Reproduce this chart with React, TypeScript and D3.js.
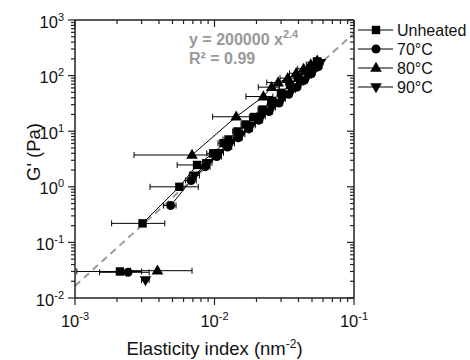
import React from "react";
import * as d3 from "d3";

// ---- data ----
const xTickValues = [1e-3, 1e-2, 1e-1];
const xTickExps = ["-3", "-2", "-1"];
const yTickValues = [1e-2, 1e-1, 1e0, 1e1, 1e2, 1e3];
const yTickExps = ["-2", "-1", "0", "1", "2", "3"];

const seriesNames = ["Unheated", "70°C", "80°C", "90°C"];
const seriesSymbols = ["square", "circle", "triangleUp", "triangleDown"];

const unheatedX = [0.0021, 0.00305, 0.0056, 0.0075, 0.0098, 0.0116, 0.0126, 0.0146, 0.0167, 0.0192, 0.0221, 0.0258, 0.0301, 0.0348, 0.0398, 0.0452, 0.0498, 0.0545];
const unheatedY = [0.030, 0.22, 1.0, 2.47, 4.0, 6.1, 7.1, 9.9, 13.2, 18.0, 24.5, 35.0, 49.0, 68.0, 92.0, 120.0, 150.0, 180.0];
const unheatedLo = [0.00103, 0.00183, 0.00345, 0.0054, 0.0088, 0.0106, 0.0115, 0.0135, 0.0155, 0.0178, 0.0205, 0.0240, 0.0282, 0.0328, 0.0375, 0.0428, 0.0472, 0.0518];
const unheatedHi = [0.0030, 0.0044, 0.00765, 0.0092, 0.0108, 0.0127, 0.0137, 0.0158, 0.0180, 0.0207, 0.0238, 0.0277, 0.0321, 0.0369, 0.0421, 0.0477, 0.0525, 0.0573];

const c70X = [0.0024, 0.00485, 0.0068, 0.0086, 0.0104, 0.0124, 0.0148, 0.0176, 0.0208, 0.0246, 0.029, 0.034, 0.039, 0.044, 0.0495, 0.0555];
const c70Y = [0.029, 0.46, 1.3, 2.3, 3.5, 5.2, 7.6, 11.0, 15.8, 22.5, 32.0, 46.0, 62.0, 82.0, 108.0, 145.0];
const c70Lo = [0.0015, 0.0043, 0.0062, 0.0079, 0.0096, 0.0115, 0.0138, 0.0165, 0.0195, 0.0232, 0.0274, 0.0322, 0.037, 0.0418, 0.047, 0.053];
const c70Hi = [0.0034, 0.0053, 0.0074, 0.0093, 0.0112, 0.0133, 0.0158, 0.0187, 0.0221, 0.026, 0.0306, 0.0358, 0.041, 0.0462, 0.052, 0.058];

const c80X = [0.0039, 0.0069, 0.0143, 0.0224, 0.0257, 0.0286, 0.0335, 0.0385, 0.0435, 0.049, 0.0545];
const c80Y = [0.031, 3.73, 18.2, 42.0, 62.0, 75.0, 90.0, 110.0, 132.0, 158.0, 185.0];
const c80Lo = [0.0025, 0.00265, 0.0097, 0.0168, 0.0206, 0.0237, 0.0295, 0.0345, 0.0395, 0.0455, 0.051];
const c80Hi = [0.0069, 0.0092, 0.0182, 0.0262, 0.0292, 0.0322, 0.0372, 0.0422, 0.0472, 0.0525, 0.058];

const c90X = [0.0032, 0.0072, 0.0089, 0.0108, 0.0130, 0.0155, 0.0184, 0.0218, 0.0258, 0.0305, 0.036, 0.041, 0.047, 0.0525, 0.0575];
const c90Y = [0.021, 1.6, 2.7, 4.1, 6.0, 8.8, 12.8, 18.5, 26.5, 38.0, 55.0, 74.0, 100.0, 132.0, 170.0];
const c90Lo = [0.0030, 0.0066, 0.0082, 0.0100, 0.0121, 0.0145, 0.0172, 0.0205, 0.0243, 0.0288, 0.034, 0.0388, 0.0445, 0.05, 0.055];
const c90Hi = [0.0034, 0.0078, 0.0096, 0.0116, 0.0139, 0.0165, 0.0196, 0.0231, 0.0273, 0.0322, 0.038, 0.0432, 0.0495, 0.055, 0.060];

// fitted power law y = 200000 x^2.4 as drawn (endpoints)
const fitX = [0.001, 0.1];
const fitY = [0.0165, 580];

const FONT = "'Liberation Sans', Arial, Helvetica, sans-serif";
const AXIS = "#222";

const L = 75, R = 354, T = 20, B = 298;

function Marker({ type, x, y }: { type: string; x: number; y: number }) {
  if (type === "square") return <rect x={x - 4.2} y={y - 4.2} width={8.4} height={8.4} fill="#000" />;
  if (type === "circle") return <circle cx={x} cy={y} r={4.5} fill="#000" />;
  const sym = d3.symbol().type(d3.symbolTriangle).size(58)();
  const rot = type === "triangleDown" ? 180 : 0;
  return <path d={sym || ""} transform={`translate(${x},${y + (type === "triangleDown" ? -0.5 : 0.5)}) rotate(${rot})`} fill="#000" />;
}

export default function App() {
  const x = d3.scaleLog().domain([1e-3, 1e-1]).range([L, R]);
  const y = d3.scaleLog().domain([1e-2, 1e3]).range([B, T]);

  const series = [
    { xs: unheatedX, ys: unheatedY, lo: unheatedLo, hi: unheatedHi },
    { xs: c70X, ys: c70Y, lo: c70Lo, hi: c70Hi },
    { xs: c80X, ys: c80Y, lo: c80Lo, hi: c80Hi },
    { xs: c90X, ys: c90Y, lo: c90Lo, hi: c90Hi },
  ];

  const minorX: number[] = [];
  for (let e = -3; e < -1; e++) for (let m = 2; m <= 9; m++) minorX.push(m * Math.pow(10, e));
  const minorY: number[] = [];
  for (let e = -2; e < 3; e++) for (let m = 2; m <= 9; m++) minorY.push(m * Math.pow(10, e));

  const line = d3.line<[number, number]>().x((d) => x(d[0])).y((d) => y(d[1]));

  return (
    <svg width={470} height={360} style={{ position: "absolute", left: 0, top: 0, background: "#fff" }} fontFamily={FONT}>
      <defs>
        <clipPath id="plotclip"><rect x={L} y={T} width={R - L} height={B - T} /></clipPath>
      </defs>
      {/* fit line */}
      <path d={line(fitX.map((v, i) => [v, fitY[i]]) as any) || ""} stroke="#9a9a9a" strokeWidth={2} strokeDasharray="7,5" fill="none" clipPath="url(#plotclip)" />

      {/* error bars */}
      {series.map((s, si) => (
        <g key={"e" + si} stroke="#000" strokeWidth={1}>
          {s.xs.map((_, i) => {
            const yy = y(s.ys[i]);
            const x1 = x(s.lo[i]), x2 = x(s.hi[i]);
            return (
              <g key={i}>
                <line x1={x1} x2={x2} y1={yy} y2={yy} />
                <line x1={x1} x2={x1} y1={yy - 3} y2={yy + 3} />
                <line x1={x2} x2={x2} y1={yy - 3} y2={yy + 3} />
              </g>
            );
          })}
        </g>
      ))}

      {/* connecting lines (lowest point of each series stands alone) */}
      {series.map((s, si) => (
        <path key={"l" + si} d={line(s.xs.slice(1).map((v, i) => [v, s.ys[i + 1]]) as any) || ""} stroke="#000" strokeWidth={1} fill="none" />
      ))}

      {/* markers */}
      {series.map((s, si) => (
        <g key={"m" + si}>
          {s.xs.map((v, i) => <Marker key={i} type={seriesSymbols[si]} x={x(v)} y={y(s.ys[i])} />)}
        </g>
      ))}

      {/* axes frame */}
      <g stroke={AXIS} strokeWidth={1.5} fill="none">
        <line x1={L} x2={L} y1={T} y2={B} />
        <line x1={R} x2={R} y1={T} y2={B} />
        <line x1={L} x2={R} y1={T} y2={T} />
        <line x1={L} x2={R} y1={B} y2={B} />
      </g>
      <g stroke={AXIS} strokeWidth={1.2}>
        {yTickValues.map((v) => (
          <g key={"ym" + v}>
            <line x1={L - 7} x2={L} y1={y(v)} y2={y(v)} />
            <line x1={R - 7} x2={R} y1={y(v)} y2={y(v)} />
          </g>
        ))}
        {minorY.map((v) => (
          <g key={"yn" + v}>
            <line x1={L - 4} x2={L} y1={y(v)} y2={y(v)} />
            <line x1={R - 4} x2={R} y1={y(v)} y2={y(v)} />
          </g>
        ))}
        {xTickValues.map((v) => (
          <g key={"xm" + v}>
            <line x1={x(v)} x2={x(v)} y1={B} y2={B + 7} />
            <line x1={x(v)} x2={x(v)} y1={T} y2={T + 7} />
          </g>
        ))}
        {minorX.map((v) => (
          <g key={"xn" + v}>
            <line x1={x(v)} x2={x(v)} y1={B} y2={B + 4} />
            <line x1={x(v)} x2={x(v)} y1={T} y2={T + 4} />
          </g>
        ))}
      </g>

      {/* tick labels */}
      {yTickValues.map((v, i) => (
        <text key={"yl" + v} x={64} y={y(v) + 7.5} textAnchor="end" fontSize={16.5} fill="#111">
          10<tspan dy={-7} fontSize={11}>{yTickExps[i]}</tspan>
        </text>
      ))}
      {xTickValues.map((v, i) => (
        <text key={"xl" + v} x={x(v)} y={327} textAnchor="middle" fontSize={16.5} fill="#111">
          10<tspan dy={-7} fontSize={11}>{xTickExps[i]}</tspan>
        </text>
      ))}

      {/* axis titles */}
      <text x={(L + R) / 2} y={355} textAnchor="middle" fontSize={18.5} fill="#111">
        Elasticity index (nm<tspan dy={-7} fontSize={12}>-2</tspan><tspan dy={7}>)</tspan>
      </text>
      <text transform={`translate(40,152) rotate(-90)`} textAnchor="middle" fontSize={18.5} fill="#111">G' (Pa)</text>

      {/* equation */}
      <text x={189} y={45} fontSize={16} fontWeight="bold" fill="#999">
        y = 200000 x<tspan dy={-7} fontSize={11}>2.4</tspan>
      </text>
      <text x={189} y={64} fontSize={16} fontWeight="bold" fill="#999">R² = 0.99</text>

      {/* legend */}
      {seriesNames.map((n, i) => {
        const ly = 30 + i * 19;
        return (
          <g key={"lg" + i}>
            <line x1={358} x2={393} y1={ly} y2={ly} stroke="#000" strokeWidth={1} />
            <Marker type={seriesSymbols[i]} x={376} y={ly} />
            <text x={397} y={ly + 5.5} fontSize={16} fill="#111">{n}</text>
          </g>
        );
      })}
    </svg>
  );
}
